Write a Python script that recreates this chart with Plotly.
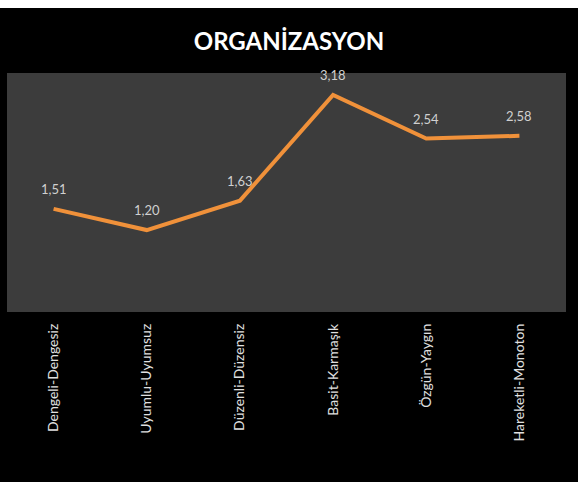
import plotly.graph_objects as go

categories = ["Dengeli-Dengesiz", "Uyumlu-Uyumsuz", "Düzenli-Düzensiz",
              "Basit-Karmaşık", "Özgün-Yaygın", "Hareketli-Monoton"]
values = [1.51, 1.20, 1.63, 3.18, 2.54, 2.58]
value_labels = ["1,51", "1,20", "1,63", "3,18", "2,54", "2,58"]

W, H = 578, 482
M_L, M_R, M_T, M_B = 7, 12, 73, 170
plot_h = H - M_T - M_B

fig = go.Figure()
fig.add_trace(
    go.Scatter(
        x=categories,
        y=values,
        mode="lines",
        line=dict(color="#f0913a", width=4),
        hoverinfo="skip",
    )
)

for cat, val, lab in zip(categories, values, value_labels):
    fig.add_annotation(
        x=cat, y=val, text=lab, showarrow=False, yshift=20,
        font=dict(family="Lato, Open Sans, sans-serif", size=13, color="#d0d0d0"),
    )

# white strip across the very top of the picture
fig.add_shape(
    type="rect", xref="paper", yref="paper",
    x0=-M_L / (W - M_L - M_R), x1=1 + M_R / (W - M_L - M_R),
    y0=1 + (M_T - 8) / plot_h, y1=1 + M_T / plot_h,
    fillcolor="white", line_width=0, layer="above",
)

fig.update_layout(
    width=W,
    height=H,
    margin=dict(l=M_L, r=M_R, t=M_T, b=M_B),
    paper_bgcolor="#000000",
    plot_bgcolor="#3c3c3c",
    showlegend=False,
    title=dict(
        text="<b>ORGANİZASYON</b>",
        x=0.5, xanchor="center",
        y=1 - 42 / H, yanchor="middle",
        font=dict(family="Lato, Open Sans, sans-serif", size=24, color="#ffffff"),
    ),
    xaxis=dict(
        type="category",
        range=[-0.5, len(categories) - 0.5],
        showgrid=False,
        zeroline=False,
        showline=False,
        tickangle=-90,
        ticklabelstandoff=8,
        tickfont=dict(family="Lato, Open Sans, sans-serif", size=14, color="#e0e0e0"),
    ),
    yaxis=dict(
        range=[0, 3.5],
        visible=False,
        showgrid=False,
        zeroline=False,
    ),
)

fig.write_html(
    "out.html",
    config={"displayModeBar": False},
    post_script="document.body.style.margin='0';",
)
